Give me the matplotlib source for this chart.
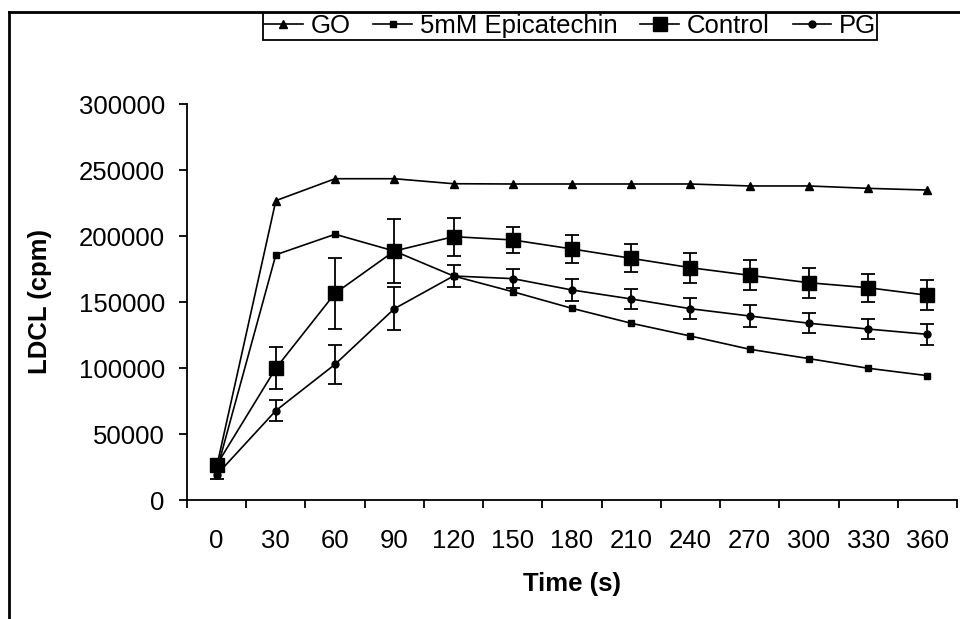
import matplotlib.pyplot as plt
from matplotlib.lines import Line2D
import numpy as np

plt.rcParams['font.family'] = ['Liberation Sans', 'DejaVu Sans']

# Data
times = [0, 30, 60, 90, 120, 150, 180, 210, 240, 270, 300, 330, 360]
go = [25000, 226800, 243400, 243400, 239600, 239400, 239400, 239400, 239400,
      237900, 237900, 236100, 234800]
epicatechin = [22000, 185800, 201300, 188600, 169700, 157800, 145200, 133900,
               124200, 114200, 107100, 99800, 94200]
control = [26500, 99800, 156600, 188600, 199500, 197000, 190200, 183100,
           176000, 170200, 164600, 160800, 155100]
control_err = [3000, 16000, 26800, 24000, 14500, 9700, 10600, 10500, 11300,
               11400, 11200, 10500, 11300]
pg = [19000, 67700, 102800, 144900, 169700, 167700, 159100, 152300, 144900,
      139400, 133900, 129500, 125500]
pg_err = [3000, 7700, 14700, 16100, 8300, 7000, 8000, 7600, 8000, 8000,
          7600, 7700, 7900]

fs = 18.5
fig = plt.figure(figsize=(9.6, 6.19), dpi=100)
ax = fig.add_axes([187 / 960, 1 - 500 / 619, 770 / 960, 396 / 619])

x = np.arange(len(times))
lw = 1.2
ax.plot(x, go, color='black', lw=lw, marker='^', ms=6, label='GO',
        clip_on=False)
ax.plot(x, epicatechin, color='black', lw=lw, marker='s', ms=5,
        label='5mM Epicatechin', clip_on=False)
ax.errorbar(x, control, yerr=control_err, color='black', lw=lw, marker='s',
            ms=9.5, capsize=5, elinewidth=1.3, capthick=1.3, label='Control',
            clip_on=False)
ax.errorbar(x, pg, yerr=pg_err, color='black', lw=lw, marker='o', ms=5,
            capsize=5, elinewidth=1.3, capthick=1.3, label='PG',
            clip_on=False)

# Axes styling (Excel-like category axis)
ax.set_xlim(-0.5, len(times) - 0.5)
ax.set_ylim(0, 300000)
ax.spines['top'].set_visible(False)
ax.spines['right'].set_visible(False)
for s in ['left', 'bottom']:
    ax.spines[s].set_linewidth(1.3)

ax.set_xticks(x)
ax.set_xticklabels([str(t) for t in times])
ax.set_xticks(np.arange(-0.5, len(times)), minor=True)
ax.tick_params(axis='x', which='major', length=0, pad=21, labelsize=fs)
ax.tick_params(axis='x', which='minor', length=5.5, width=1.3,
               direction='out')
ax.set_yticks(np.arange(0, 300001, 50000))
ax.tick_params(axis='y', length=6, width=1.3, direction='out', pad=10,
               labelsize=fs)

ax.set_ylabel('LDCL (cpm)', fontsize=fs, fontweight='bold')
ax.yaxis.set_label_coords(-0.175, 0.5)
ax.set_xlabel('Time (s)', fontsize=fs, fontweight='bold')
ax.xaxis.set_label_coords(0.5, -0.182)

# Legend
handles = [
    Line2D([], [], color='black', lw=lw, marker='^', ms=6),
    Line2D([], [], color='black', lw=lw, marker='s', ms=5),
    Line2D([], [], color='black', lw=lw, marker='s', ms=9.5),
    Line2D([], [], color='black', lw=lw, marker='o', ms=5),
]
leg = fig.legend(handles, ['GO', '5mM Epicatechin', 'Control', 'PG'],
                 loc='upper center', bbox_to_anchor=(570 / 960, 1 - 13 / 619),
                 ncol=4, fontsize=fs, frameon=True, fancybox=False,
                 framealpha=1, handlelength=1.5, handletextpad=0.3,
                 columnspacing=0.9, borderpad=0.05, borderaxespad=0)
leg.get_frame().set_edgecolor('black')
leg.get_frame().set_linewidth(1.3)

# Outer chart frame (top and left edges visible)
fig.add_artist(Line2D([9 / 960, 1.0], [1 - 12 / 619, 1 - 12 / 619],
                      color='black', lw=2, transform=fig.transFigure))
fig.add_artist(Line2D([9 / 960, 9 / 960], [0, 1 - 12 / 619],
                      color='black', lw=2, transform=fig.transFigure))

fig.savefig('out.png', dpi=100)
